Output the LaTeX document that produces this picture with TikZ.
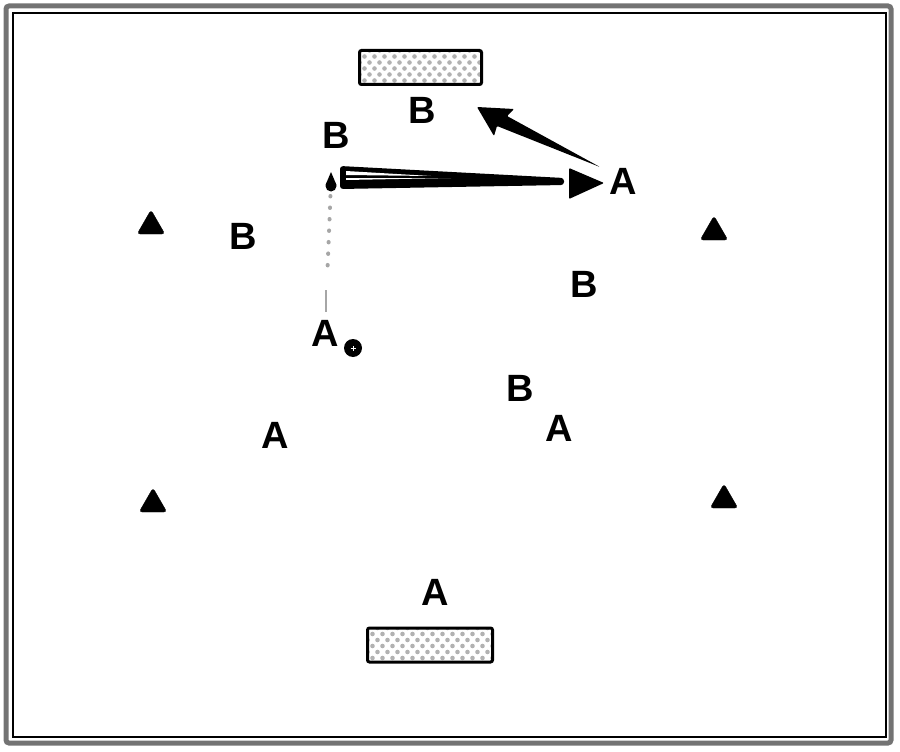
\documentclass[tikz,border=0pt]{standalone}
\usepackage{fontspec}
\setmainfont{Liberation Sans}
\usetikzlibrary{shapes.geometric,calc}

\begin{document}
\begin{tikzpicture}[x=1pt,y=-1pt,
    lab/.style={inner sep=0pt, font=\fontsize{38}{38}\selectfont\bfseries},
    cone/.style={shape=regular polygon, regular polygon sides=3, fill=black, draw=black,
        rounded corners=3pt, minimum size=32pt, inner sep=0pt},
    goal/.style={draw=black, line width=3pt, rounded corners=2pt, minimum height=34pt, inner sep=0pt,
        path picture={\foreach \i in {0,...,13}{\foreach \j in {0,...,6}{
            \fill[gray!60] ([xshift={\i*10pt+mod(\j,2)*5pt}, yshift={-\j*6pt}]path picture bounding box.north west) circle (2.3pt);}}}},
    ball/.style={shape=circle, fill=black, minimum size=18pt, inner sep=0pt,
        path picture={\draw[white, line width=0.8pt]
            ([xshift=-2.5pt]path picture bounding box.center) -- ([xshift=2.5pt]path picture bounding box.center)
            ([yshift=-2.5pt]path picture bounding box.center) -- ([yshift=2.5pt]path picture bounding box.center);}},
    dribble/.style={gray!70, line width=4pt, line cap=round, dash pattern=on 0.5pt off 11pt}]
    \useasboundingbox (0,0) rectangle (900,752);
    % frame
    \draw[line width=5pt, black!55, rounded corners=3pt] (6,6) rectangle (891,743);
    \draw[line width=1.2pt] (13,13) rectangle (886,737);
    % goals
    \node[goal, minimum width=122pt] at (420.5,67.5) (goaltop) {};
    \node[goal, minimum width=125pt] at (430,645) (goalbot) {};
    % cones
    \node[cone] at (151,226) (c1) {};
    \node[cone] at (714,232) (c2) {};
    \node[cone] at (153,504) (c3) {};
    \node[cone] at (724,500) (c4) {};
    % players
    \node[lab] at (422,110) (bgoal) {B};
    \node[lab] at (336,135) (bpass) {B};
    \node[lab] at (623,181) (arecv) {A};
    \node[lab] at (243,236) (bleft) {B};
    \node[lab] at (584,284) (bright) {B};
    \node[lab] at (325,333) (aball) {A};
    \node[lab] at (520,388) (bmid) {B};
    \node[lab] at (559,428) (amid) {A};
    \node[lab] at (275,435) (aleft) {A};
    \node[lab] at (435,592) (agoal) {A};
    \node[ball] at (353,348) (ball) {};
    \coordinate (pl) at (331,182);
    \fill ($(pl)+(0,4)$) circle (5.5);
    \fill ($(pl)+(-5.5,3)$) -- ($(pl)+(0,-10)$) -- ($(pl)+(5.5,3)$) -- cycle;
    % dribble
    \draw[dribble, shorten <=14pt, shorten >=46pt] (pl) -- (aball);
    \draw[gray!70, line width=2.5pt] ($(aball)+(1,-43)$) -- ($(aball)+(1,-21)$);
    % pass
    \fill[rounded corners=3pt] ($(pl)+(9,-16)$) -- ($(arecv)+(-59,-3)$) -- ($(arecv)+(-59,4)$) -- ($(pl)+(9,7)$) -- cycle;
    \fill[white] ($(pl)+(15,-11)$) -- ($(pl)+(100,-6)$) -- ($(pl)+(15,-7)$) -- cycle;
    \fill[white] ($(pl)+(15,-4)$) -- ($(pl)+(120,-4)$) -- ($(pl)+(15,-2)$) -- cycle;
    \fill[rounded corners=1pt] ($(arecv)+(-54,-13)$) -- ($(arecv)+(-19,2)$) -- ($(arecv)+(-54,18)$) -- cycle;
    % return run
    \fill[rounded corners=1pt] ($(bgoal)+(55,-3)$) -- ($(bgoal)+(92,-1)$) -- ($(bgoal)+(85,6)$)
        -- ($(arecv)+(-23,-14)$) -- ($(bgoal)+(75,16)$) -- ($(bgoal)+(72,26)$) -- cycle;
\end{tikzpicture}
\end{document}
